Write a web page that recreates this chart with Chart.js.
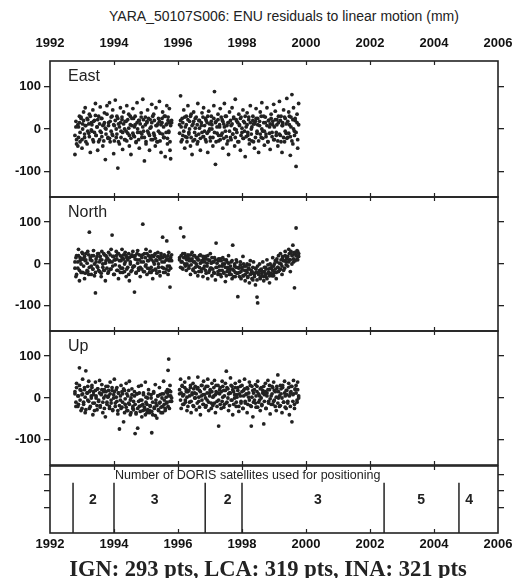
<!DOCTYPE html>
<html><head><meta charset="utf-8">
<script src="https://cdn.jsdelivr.net/npm/chart.js@4.4.0/dist/chart.umd.min.js"></script>
<style>
body{margin:0;background:#fff;width:516px;height:578px;position:relative;overflow:hidden;font-family:"Liberation Sans",Arial,sans-serif;}
canvas{position:absolute;left:0;}
#title{position:absolute;left:0;width:568px;top:8px;text-align:center;font:14px "Liberation Sans",Arial,sans-serif;color:#222;white-space:nowrap;}
#footer{position:absolute;left:0;width:536px;top:556px;text-align:center;font:bold 22.5px "Liberation Serif","Times New Roman",serif;color:#222;white-space:nowrap;}
</style></head><body>
<div id="title">YARA_50107S006: ENU residuals to linear motion (mm)</div>
<canvas id="cE" width="516" height="203" style="top:0px"></canvas>
<canvas id="cN" width="516" height="146" style="top:191px"></canvas>
<canvas id="cU" width="516" height="146" style="top:325px"></canvas>
<canvas id="cD" width="516" height="95" style="top:460px"></canvas>
<div id="footer">IGN: 293 pts, LCA: 319 pts, INA: 321 pts</div>
<script>
// ---------- data ----------
const yearTicks = [1992, 1994, 1996, 1998, 2000, 2002, 2004, 2006];
const innerYearTicks = [1994, 1996, 1998, 2000, 2002, 2004];
const residualTicks = [-100, 0, 100];
const panelNames = ['East', 'North', 'Up'];

const times1 = [
 1992.78,1992.81,1992.83,1992.87,1992.89,1992.92,1992.94,1992.97,1993.00,1993.02,
 1993.05,1993.08,1993.10,1993.12,1993.16,1993.18,1993.21,1993.23,1993.26,1993.29,
 1993.31,1993.34,1993.36,1993.39,1993.42,1993.44,1993.47,1993.49,1993.52,1993.55,
 1993.57,1993.60,1993.62,1993.65,1993.68,1993.70,1993.73,1993.75,1993.78,1993.81,
 1993.83,1993.86,1993.88,1993.91,1993.94,1993.96,1993.99,1994.01,1994.04,1994.07,
 1994.09,1994.12,1994.14,1994.17,1994.20,1994.22,1994.25,1994.27,1994.30,1994.33,
 1994.35,1994.38,1994.40,1994.43,1994.46,1994.48,1994.51,1994.53,1994.56,1994.59,
 1994.61,1994.64,1994.66,1994.69,1994.72,1994.74,1994.77,1994.79,1994.82,1994.85,
 1994.87,1994.90,1994.92,1994.95,1994.98,1995.00,1995.03,1995.05,1995.08,1995.11,
 1995.13,1995.16,1995.18,1995.21,1995.24,1995.26,1995.29,1995.31,1995.34,1995.37,
 1995.39,1995.42,1995.44,1995.47,1995.50,1995.52,1995.55,1995.57,1995.60,1995.63,
 1995.65,1995.67,1995.69,1995.71,1995.73,1995.75,1995.77,1995.80];
const times2 = [
 1996.05,1996.08,1996.10,1996.13,1996.15,1996.18,1996.21,1996.23,1996.26,1996.28,
 1996.31,1996.34,1996.36,1996.39,1996.41,1996.44,1996.47,1996.49,1996.52,1996.54,
 1996.57,1996.60,1996.62,1996.65,1996.67,1996.70,1996.73,1996.75,1996.78,1996.80,
 1996.83,1996.86,1996.88,1996.91,1996.93,1996.96,1996.99,1997.01,1997.04,1997.06,
 1997.09,1997.12,1997.14,1997.17,1997.19,1997.22,1997.25,1997.27,1997.30,1997.32,
 1997.35,1997.38,1997.40,1997.43,1997.45,1997.48,1997.51,1997.53,1997.56,1997.58,
 1997.61,1997.64,1997.66,1997.69,1997.71,1997.74,1997.77,1997.79,1997.82,1997.84,
 1997.87,1997.90,1997.92,1997.95,1997.97,1998.00,1998.03,1998.05,1998.08,1998.10,
 1998.13,1998.16,1998.18,1998.21,1998.23,1998.26,1998.29,1998.31,1998.34,1998.36,
 1998.39,1998.42,1998.44,1998.47,1998.49,1998.52,1998.55,1998.57,1998.60,1998.62,
 1998.65,1998.68,1998.70,1998.73,1998.75,1998.78,1998.81,1998.83,1998.86,1998.88,
 1998.91,1998.94,1998.96,1998.99,1999.01,1999.04,1999.07,1999.09,1999.12,1999.14,
 1999.17,1999.20,1999.22,1999.25,1999.27,1999.30,1999.33,1999.35,1999.38,1999.40,
 1999.43,1999.46,1999.48,1999.51,1999.53,1999.56,1999.59,1999.61,1999.64,1999.66,
 1999.69,1999.72,1999.74,1999.77];

// first solution set
const east1 = [
 -60,18,-25,-40,5,30,-30,25,-45,12,
 40,-20,50,8,-35,22,-10,35,-55,15,
 -5,45,-30,20,60,-15,5,-50,30,-25,
 52,-8,25,-40,10,38,-72,0,55,-22,
 15,62,-30,28,-12,45,-58,8,68,-20,
 30,-92,12,-35,50,-5,22,-48,40,0,
 -25,18,55,-10,35,-40,10,-60,25,48,
 -15,5,30,-30,62,-8,20,-45,12,38,
 -20,70,-5,-75,28,-35,15,45,-10,-50,
 22,5,58,-25,35,-15,-40,50,8,-30,
 25,65,-10,-55,15,40,-20,30,-65,10,
 55,-35,20,-8,48,-50,-70,15];
const east2 = [
 10,78,-30,25,-15,45,-45,5,30,-20,
 55,-8,18,-40,35,-60,12,40,-25,2,
 28,-35,60,-12,20,-50,8,38,-18,50,
 -5,25,-30,15,-55,42,0,-20,30,10,
 -40,55,88,-83,18,-10,35,-28,5,48,
 -15,22,-45,12,60,-5,30,-35,15,-60,
 40,-20,8,50,-12,25,-40,70,-2,18,
 -30,35,10,-50,28,-8,45,-22,15,-65,
 5,38,-15,22,-35,55,0,-28,30,12,
 -45,18,48,-10,25,-55,8,40,-20,62,
 -5,30,-38,15,-12,50,-30,20,5,-48,
 35,-18,10,58,-25,42,-8,22,-40,15,
 65,-15,30,-55,8,45,-30,25,-10,72,
 -20,40,10,-62,28,81,-35,50,-5,20,
 -88,35,-45,60];
const north1 = [
 5,-30,20,-10,35,-40,15,0,28,-20,
 12,-35,8,25,-15,30,-25,76,10,-5,
 20,-12,32,-28,-69,5,18,-8,25,-18,
 10,-30,30,0,-15,22,-40,8,15,-22,
 28,5,-12,35,69,-5,18,-25,10,30,
 -15,25,-35,8,20,-10,35,-20,12,0,
 28,-30,15,-8,25,-40,5,18,-15,30,
 -5,-67,20,-22,10,32,-10,22,-30,5,
 15,95,-18,25,-5,35,-25,8,20,-12,
 30,-20,10,-35,18,0,25,-15,8,28,
 -8,15,-28,20,5,64,-10,22,-20,10,
 55,12,-25,28,-5,-55,15,8];
const north2 = [
 15,86,5,-10,25,65,0,18,-15,10,
 22,-5,12,-25,8,28,-12,5,20,-20,
 0,15,-28,10,-8,22,-18,5,-30,12,
 -5,18,-22,2,-35,10,-15,25,-10,-28,
 5,-20,15,-38,50,-8,-25,8,-15,12,
 -30,-5,15,-20,0,-42,10,-18,-8,20,
 -25,-12,5,-35,45,-15,-5,-30,10,-22,
 -78,-8,-20,5,-35,-12,18,-28,-5,-40,
 -15,0,-30,-10,-45,8,-22,-18,-38,5,
 -25,-50,-12,-79,-93,-20,0,-35,-15,-28,
 5,-40,-18,-8,-30,10,-22,-12,-45,0,
 -10,-28,15,-5,-20,8,-35,12,-8,20,
 -15,25,0,-25,18,8,-10,30,5,15,
 -5,35,10,-18,28,20,45,5,-57,25,
 86,12,30,18];
const up1 = [
 10,-20,35,5,-15,72,20,-30,8,45,
 -10,25,-35,65,12,-5,40,-25,18,0,
 30,-40,15,-12,38,5,-28,22,-8,42,
 -18,10,32,-35,0,20,-45,15,-10,28,
 5,-25,38,-12,18,-30,8,45,-20,2,
 25,-38,12,-74,-5,30,-22,10,-57,18,
 -15,35,-30,5,-12,40,-40,0,22,-25,
 -8,15,-85,-35,10,-72,28,-20,-5,30,
 -45,-15,12,-28,38,-10,-35,0,20,-30,
 -18,8,-83,-40,15,-22,32,-12,-48,5,
 -28,25,-10,-35,10,-20,40,-5,-30,15,
 -12,20,66,93,-25,30,5,-8];
const up2 = [
 10,45,-25,30,5,-15,38,-5,20,-30,
 15,48,-10,25,-35,8,35,-20,12,0,
 -28,22,50,-8,18,-40,5,30,-15,40,
 8,-22,28,-5,45,-30,12,20,-12,35,
 -18,5,42,-35,15,-8,30,-67,10,25,
 -25,40,2,18,-15,35,64,-10,22,-30,
 12,48,-5,28,-40,15,0,35,-20,8,
 25,-32,40,5,-12,30,-25,18,45,-8,
 10,-35,22,2,38,-18,-67,28,-45,12,
 -5,32,-22,15,40,-10,5,-30,25,-15,
 18,-62,8,35,-25,12,42,-8,20,-38,
 5,28,-15,38,-5,15,-30,22,55,0,
 -20,30,10,-35,25,-10,40,5,-25,18,
 -8,35,-40,12,28,-57,8,42,-15,20,
 30,-10,38,5];

// second solution set (same epochs)
const east1b = [
 -15,5,-35,10,-20,15,-8,28,-25,0,
 20,-12,8,-30,25,-5,12,-18,30,-2,
 10,-25,18,-8,32,-15,5,22,-30,12,
 -5,25,-18,8,-28,15,2,-12,35,-20,
 8,-22,18,-5,30,-15,10,-28,20,0,
 -12,25,-30,5,15,-20,28,-8,12,-25,
 18,-5,-28,22,2,-15,30,-22,8,-10,
 25,-18,10,-32,15,0,-25,20,-8,28,
 -12,5,22,-20,10,-30,18,-5,25,-15,
 2,-25,15,30,-10,20,-22,8,-30,12,
 -5,18,-28,10,25,-12,5,-20,30,-8,
 12,-22,28,-5,15,-30,8,20];
const east2b = [
 -10,20,5,-25,15,-5,28,-18,10,-30,
 22,-12,0,30,-20,8,-28,18,-8,25,
 -15,10,-30,20,2,-22,15,-8,28,-18,
 8,-25,20,-10,30,-5,12,-28,18,0,
 -20,25,-8,15,-30,5,22,-15,10,-25,
 28,-10,18,-22,5,30,-18,8,-28,15,
 -5,20,-25,12,-12,28,0,-20,22,-8,
 15,-30,8,25,-15,2,-22,18,-5,30,
 -18,10,-8,28,-25,15,-12,5,20,-30,
 12,-20,25,-5,10,-28,18,-12,30,0,
 -22,15,-5,28,-18,8,-30,20,-10,12,
 25,-8,18,-25,5,22,-15,10,-28,30,
 -12,20,-30,8,15,-20,28,-5,12,-22,
 18,-10,30,-18,5,-28,22,0,-15,25,
 -8,15,-25,10];
const north1b = [
 -10,15,-25,5,20,-15,8,-20,12,25,
 -5,18,-22,10,2,-18,22,-8,15,-25,
 8,-12,20,0,-20,12,-5,25,-15,5,
 18,-22,10,-8,25,-15,2,20,-10,12,
 -18,8,22,-12,5,18,-25,10,-2,20,
 12,-15,25,-5,-20,8,15,-10,22,-18,
 5,20,-12,10,-25,15,0,-18,22,-8,
 18,-5,12,-20,25,2,-15,10,-8,20,
 -12,22,5,-18,15,-2,25,-10,8,-20,
 15,-8,20,-15,5,22,-12,10,-22,18,
 0,-18,12,25,-8,15,-20,5,18,-12,
 10,-5,20,-15,8,12,-10,22];
const north2b = [
 10,-8,20,5,-12,15,25,-5,12,0,
 18,-10,8,22,-2,12,-15,20,5,-8,
 15,-5,10,-18,20,2,-12,8,18,-10,
 5,-15,12,-5,20,-20,8,-10,2,15,
 -12,5,-22,10,-8,2,-18,12,-5,-25,
 8,-15,0,-22,10,-8,-28,5,-12,2,
 -18,-5,-25,8,-12,-30,0,-20,-8,5,
 -22,-10,-30,-2,-18,-8,-28,0,-15,-25,
 -5,-20,-32,-12,-2,-25,-15,-35,-8,-22,
 -30,-10,-20,-38,-5,-25,-15,-32,-12,-22,
 -18,-30,-8,-25,-12,-35,-2,-20,-28,-10,
 -22,-5,-15,-28,0,-12,-20,5,-8,-18,
 2,-12,10,-5,15,-15,8,20,-2,12,
 18,5,25,10,30,0,22,12,28,8,
 20,32,10,25];
const up1b = [
 15,-10,25,-20,5,30,-5,18,-25,10,
 -15,20,2,-28,12,28,-8,15,-20,5,
 25,-12,8,-30,18,0,-18,22,-5,12,
 -22,8,20,-10,15,-25,5,28,-15,2,
 18,-20,10,-5,25,-28,0,15,-12,20,
 -8,-30,12,-18,5,-25,15,-10,22,-35,
 -2,-22,10,-30,18,-15,-5,-35,8,-20,
 -28,5,-15,-38,10,-25,-8,12,-32,-18,
 -5,-30,8,-22,-40,2,-15,-28,10,-35,
 -20,0,-32,-10,12,-25,-42,-5,-18,5,
 -30,-12,8,-22,0,-35,10,-15,-25,2,
 -10,12,-20,5,18,-8,15,0];
const up2b = [
 20,-5,12,28,-15,8,25,-10,15,2,
 -20,18,5,30,-8,12,-18,22,0,28,
 10,-12,25,2,-22,15,30,-5,8,-15,
 22,0,-18,12,28,-10,5,18,-25,15,
 2,25,-12,8,30,-20,12,-5,20,-15,
 15,-8,28,-22,5,18,-12,25,0,10,
 -18,12,30,-5,20,-15,8,25,-10,2,
 18,-20,10,28,-8,15,-25,5,22,-12,
 8,25,-15,12,-5,30,-20,2,18,-10,
 20,-12,5,28,-22,10,-5,22,0,-18,
 12,28,-8,15,-25,5,20,-12,30,-2,
 -15,10,25,-8,18,-20,2,28,-12,15,
 5,-18,22,0,30,-10,12,-22,18,8,
 -12,25,5,-20,15,28,-8,10,-25,22,
 12,-5,20,0];

// DORIS satellites panel
const dorisBreaks = [1992.72, 1994.0, 1996.85, 1998.0, 2002.44, 2004.78];
const dorisCounts = ['2', '3', '2', '3', '5', '4'];
const dorisCountYears = [1993.34, 1995.27, 1997.55, 2000.37, 2003.6, 2005.1];
const dorisTicks = [1.5, 2.5, 3.5];
const dorisCaption = 'Number of DORIS satellites used for positioning';

// ---------- rendering ----------
const INK = '#222';
const FONT = '"Liberation Sans", Arial, sans-serif';

function pts(t, v) { return t.map((x, i) => ({x: x, y: v[i]})).filter(p => p.y !== undefined); }

const framePlugin = {
  id: 'frame',
  afterDraw(chart, args, opts) {
    const ctx = chart.ctx, a = chart.chartArea, x = chart.scales.x;
    ctx.save();
    ctx.strokeStyle = INK;
    ctx.lineWidth = 1.6;
    ctx.strokeRect(a.left, a.top, a.right - a.left, a.bottom - a.top);
    ctx.lineWidth = 1.2;
    innerYearTicks.forEach(v => {
      const px = Math.round(x.getPixelForValue(v)) + 0.5;
      ctx.beginPath();
      ctx.moveTo(px, a.top); ctx.lineTo(px, a.top + 4);
      ctx.moveTo(px, a.bottom); ctx.lineTo(px, a.bottom - 4);
      ctx.stroke();
    });
    if (opts.label) {
      ctx.fillStyle = INK;
      ctx.font = '16px ' + FONT;
      ctx.textBaseline = 'middle';
      ctx.textAlign = 'left';
      ctx.fillText(opts.label, a.left + 18, a.top + 16);
    }
    ctx.restore();
  }
};

const dorisPlugin = {
  id: 'doris',
  afterDraw(chart) {
    const ctx = chart.ctx, x = chart.scales.x, y = chart.scales.y;
    ctx.save();
    ctx.fillStyle = INK;
    ctx.textBaseline = 'middle';
    ctx.font = '12.5px ' + FONT;
    ctx.textAlign = 'left';
    ctx.fillText(dorisCaption, x.getPixelForValue(1994.0) + 1, y.getPixelForValue(3.45));
    ctx.font = 'bold 14px ' + FONT;
    ctx.textAlign = 'center';
    dorisCounts.forEach((c, i) => ctx.fillText(c, x.getPixelForValue(dorisCountYears[i]), y.getPixelForValue(1.95)));
    ctx.restore();
  }
};

function yScales(min, max, ticks, showLabels) {
  return {
    y: {
      position: 'left', min: min, max: max,
      afterFit: s => { s.width = 50; s.paddingTop = 0; s.paddingBottom = 0; },
      afterBuildTicks: s => { s.ticks = ticks.map(v => ({value: v})); },
      ticks: {display: showLabels, font: {family: FONT, size: 13, weight: 'bold'}, color: '#111', padding: 3},
      grid: {drawOnChartArea: false, drawTicks: true, tickLength: 6, color: INK, lineWidth: 1.3},
      border: {display: false}
    },
    yR: {
      position: 'right', min: min, max: max,
      afterFit: s => { s.width = 18; s.paddingTop = 0; s.paddingBottom = 0; },
      afterBuildTicks: s => { s.ticks = ticks.map(v => ({value: v})); },
      ticks: {display: false},
      grid: {drawOnChartArea: false, drawTicks: true, tickLength: 6, color: INK, lineWidth: 1.3},
      border: {display: false}
    }
  };
}

function xLabeled(position, height, padding) {
  return {
    type: 'linear', position: position, min: 1992, max: 2006,
    afterBuildTicks: s => { s.ticks = yearTicks.map(v => ({value: v})); },
    afterFit: s => { s.height = height; s.paddingLeft = 0; s.paddingRight = 0; },
    ticks: {font: {family: FONT, size: 13, weight: 'bold'}, color: '#111', padding: padding, maxRotation: 0, autoSkip: false, callback: v => String(v)},
    grid: {display: false, drawTicks: false},
    border: {display: false}
  };
}

function residualChart(id, name, v1, v2, v1b, v2b, xScale, padTop) {
  const scales = Object.assign({x: xScale}, yScales(-160, 160, residualTicks, true));
  const data = pts(times1, v1).concat(pts(times2, v2), pts(times1, v1b), pts(times2, v2b));
  return new Chart(document.getElementById(id), {
    type: 'scatter',
    data: {datasets: [{
      data: data,
      backgroundColor: INK, borderWidth: 0, pointRadius: 1.9, pointHoverRadius: 1.9
    }]},
    options: {
      responsive: false, animation: false, devicePixelRatio: 1,
      layout: {padding: {top: padTop, bottom: 6, left: 0, right: 0}},
      plugins: {legend: {display: false}, tooltip: {enabled: false}, frame: {label: name}},
      scales: scales
    },
    plugins: [framePlugin]
  });
}

const xHidden = () => ({type: 'linear', min: 1992, max: 2006, display: false});

residualChart('cE', panelNames[0], east1, east2, east1b, east2b, xLabeled('top', 61, 10), 0);
residualChart('cN', panelNames[1], north1, north2, north1b, north2b, xHidden(), 6);
residualChart('cU', panelNames[2], up1, up2, up1b, up2b, xHidden(), 6);

const dorisLineTop = 3.0;
new Chart(document.getElementById('cD'), {
  type: 'scatter',
  data: {datasets: dorisBreaks.map(b => ({
    data: [{x: b, y: 0}, {x: b, y: dorisLineTop}],
    showLine: true, borderColor: INK, borderWidth: 1.5, pointRadius: 0, fill: false
  }))},
  options: {
    responsive: false, animation: false, devicePixelRatio: 1,
    layout: {padding: {top: 6, bottom: 0, left: 0, right: 0}},
    plugins: {legend: {display: false}, tooltip: {enabled: false}, frame: {label: null}},
    scales: Object.assign({x: xLabeled('bottom', 22, 4)}, yScales(0, 4, dorisTicks, false))
  },
  plugins: [framePlugin, dorisPlugin]
});
</script>
</body></html>
